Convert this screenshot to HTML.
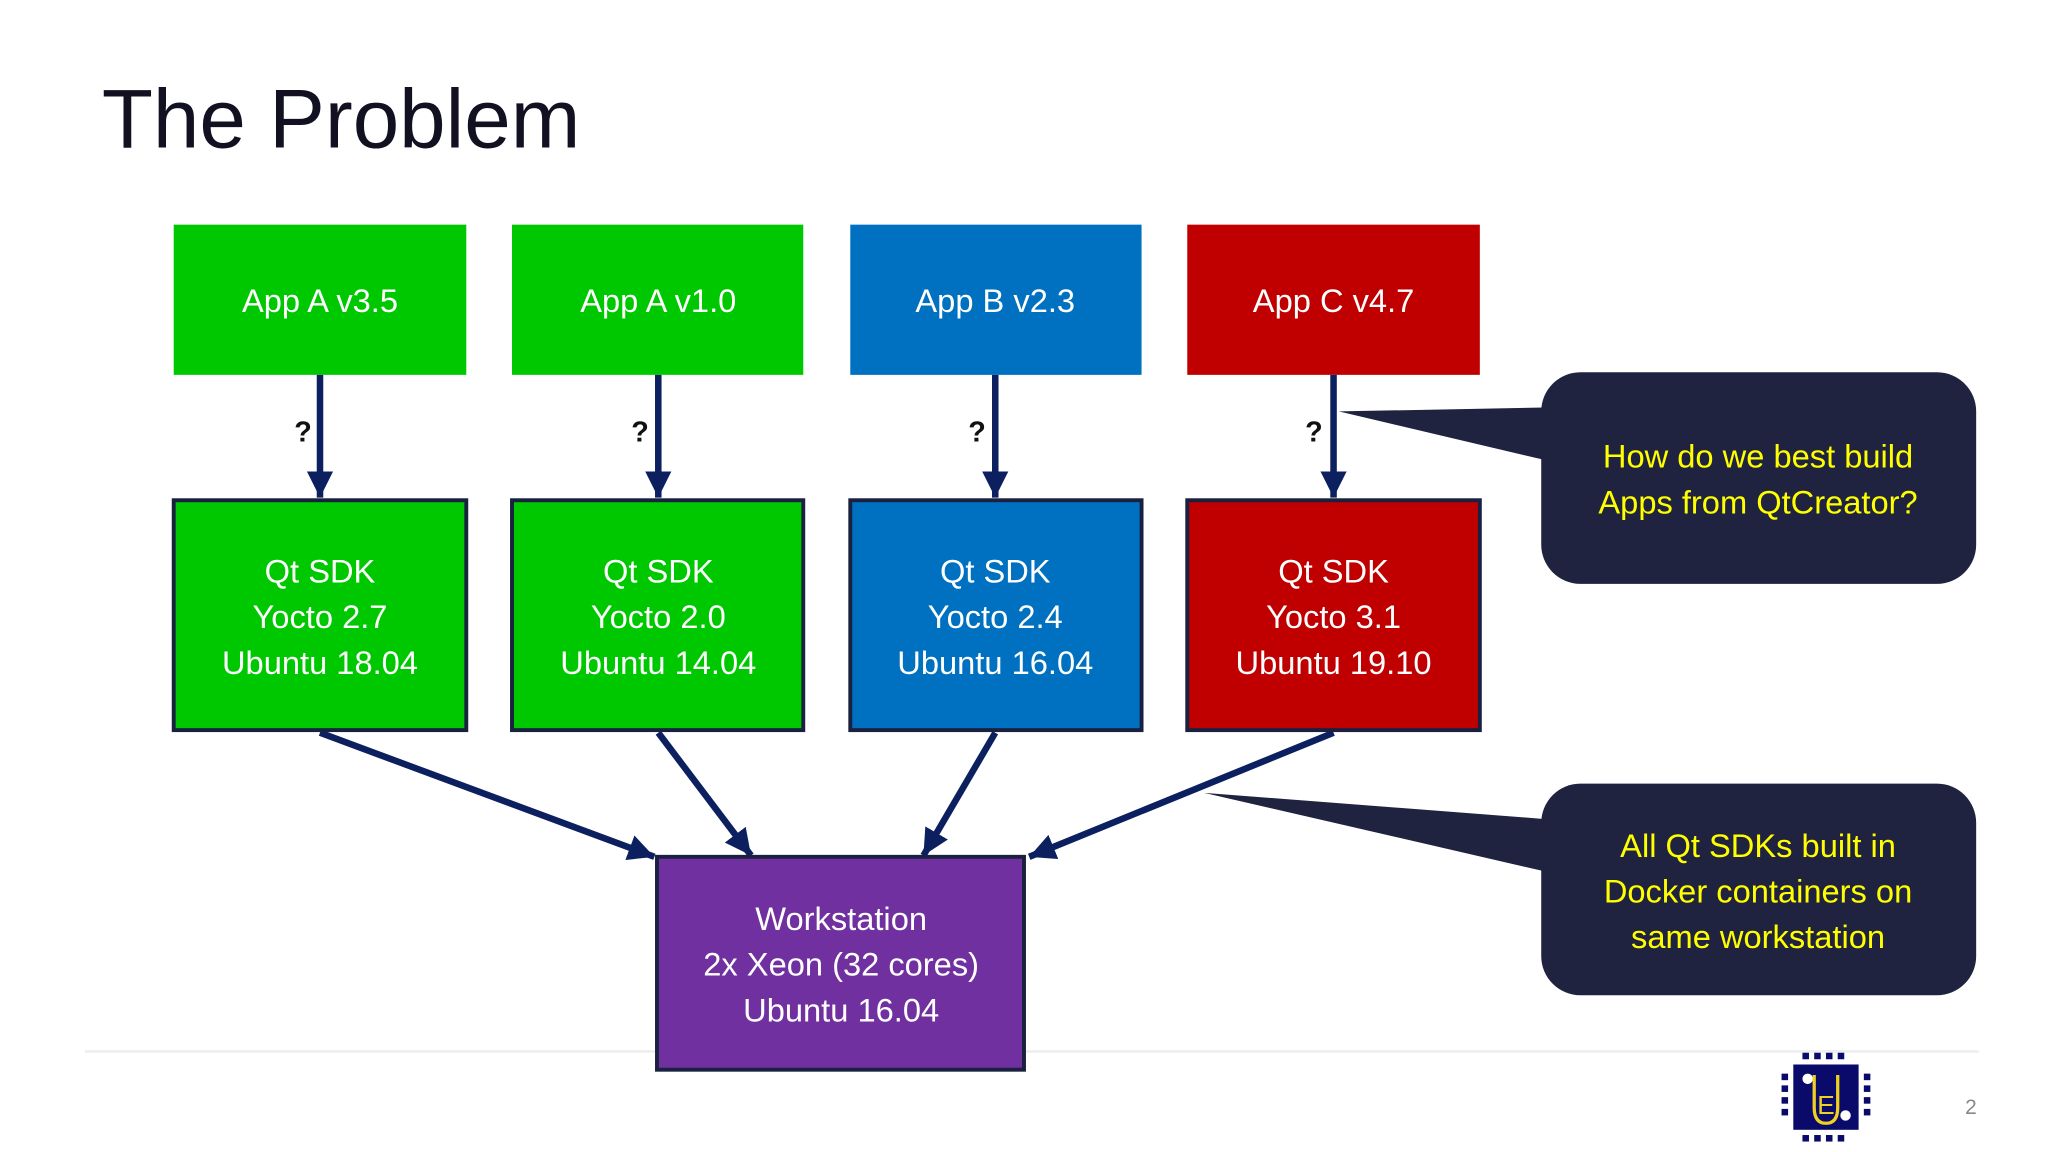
<!DOCTYPE html>
<html><head><meta charset="utf-8"><style>html,body{margin:0;padding:0;background:#fff}svg{display:block}</style></head>
<body>
<svg width="2048" height="1152" viewBox="0 0 1568 882" xmlns="http://www.w3.org/2000/svg" font-family="Liberation Sans, sans-serif">
<defs>
<marker id="ah" markerWidth="4" markerHeight="4" refX="4" refY="2" orient="auto" markerUnits="strokeWidth"><path d="M0,0 L4,2 L0,4 z" fill="#0c2060"/></marker>
</defs>
<rect width="1568" height="882" fill="#fff"/>
<line x1="65" y1="805" x2="1515" y2="805" stroke="#eeeeee" stroke-width="2"/>
<text x="78" y="113" font-size="64" fill="#111122">The Problem</text>
<g font-size="25" fill="#fff" text-anchor="middle">
<rect x="133" y="172" width="224" height="115" fill="#00c800"/><text x="245" y="239">App A v3.5</text>
<rect x="392" y="172" width="223" height="115" fill="#00c800"/><text x="504" y="239">App A v1.0</text>
<rect x="651" y="172" width="223" height="115" fill="#0070c0"/><text x="762" y="239">App B v2.3</text>
<rect x="909" y="172" width="224" height="115" fill="#c00000"/><text x="1021" y="239">App C v4.7</text>
</g>
<g stroke="#0c2060" stroke-width="5" fill="none" marker-end="url(#ah)">
<line x1="245" y1="287" x2="245" y2="381"/>
<line x1="504" y1="287" x2="504" y2="381"/>
<line x1="762" y1="287" x2="762" y2="381"/>
<line x1="1021" y1="287" x2="1021" y2="381"/>
<line x1="245" y1="561" x2="501" y2="656"/>
<line x1="504" y1="561" x2="575" y2="655"/>
<line x1="762" y1="561" x2="707" y2="655"/>
<line x1="1021" y1="561" x2="788" y2="656"/>
</g>
<g font-size="22" font-weight="bold" fill="#111" text-anchor="middle">
<text x="232" y="338">?</text><text x="490" y="338">?</text><text x="748" y="338">?</text><text x="1006" y="338">?</text>
</g>
<g stroke="#1a2040" stroke-width="3">
<rect x="133" y="383" width="224" height="176" fill="#00c800"/>
<rect x="392" y="383" width="223" height="176" fill="#00c800"/>
<rect x="651" y="383" width="223" height="176" fill="#0070c0"/>
<rect x="909" y="383" width="224" height="176" fill="#c00000"/>
<rect x="503" y="656" width="281" height="163" fill="#7030a0"/>
</g>
<g font-size="25" fill="#fff" text-anchor="middle">
<text x="245" y="446">Qt SDK</text><text x="245" y="481">Yocto 2.7</text><text x="245" y="516">Ubuntu 18.04</text>
<text x="504" y="446">Qt SDK</text><text x="504" y="481">Yocto 2.0</text><text x="504" y="516">Ubuntu 14.04</text>
<text x="762" y="446">Qt SDK</text><text x="762" y="481">Yocto 2.4</text><text x="762" y="516">Ubuntu 16.04</text>
<text x="1021" y="446">Qt SDK</text><text x="1021" y="481">Yocto 3.1</text><text x="1021" y="516">Ubuntu 19.10</text>
<text x="644" y="712">Workstation</text><text x="644" y="747">2x Xeon (32 cores)</text><text x="644" y="782">Ubuntu 16.04</text>
</g>
<rect x="1180" y="285" width="333" height="162" rx="30" fill="#1f2340"/>
<polygon points="1182,312 1182,352 1025,315" fill="#1f2340"/>
<rect x="1180" y="600" width="333" height="162" rx="30" fill="#1f2340"/>
<polygon points="1182,627 1182,667 922,607" fill="#1f2340"/>
<g font-size="25" fill="#ffff00" text-anchor="middle">
<text x="1346" y="358">How do we best build</text><text x="1346" y="393">Apps from QtCreator?</text>
<text x="1346" y="656">All Qt SDKs built in</text><text x="1346" y="691">Docker containers on</text><text x="1346" y="726">same workstation</text>
</g>
<g fill="#0a0a6a">
<rect x="1373" y="815" width="50" height="50"/>
<rect x="1380" y="806" width="5" height="5"/><rect x="1389" y="806" width="5" height="5"/><rect x="1398" y="806" width="5" height="5"/><rect x="1407" y="806" width="5" height="5"/>
<rect x="1380" y="869" width="5" height="5"/><rect x="1389" y="869" width="5" height="5"/><rect x="1398" y="869" width="5" height="5"/><rect x="1407" y="869" width="5" height="5"/>
<rect x="1364" y="822" width="5" height="5"/><rect x="1364" y="831" width="5" height="5"/><rect x="1364" y="840" width="5" height="5"/><rect x="1364" y="849" width="5" height="5"/>
<rect x="1427" y="822" width="5" height="5"/><rect x="1427" y="831" width="5" height="5"/><rect x="1427" y="840" width="5" height="5"/><rect x="1427" y="849" width="5" height="5"/>
</g>
<circle cx="1384" cy="826" r="4" fill="#fff"/><circle cx="1413" cy="854" r="4" fill="#fff"/>
<path d="M1389,823 V848 Q1389,860 1398,860 Q1407,860 1407,848 V823" stroke="#f0d020" stroke-width="2.5" fill="none"/>
<text x="1398" y="853" font-size="20" fill="#f0d020" text-anchor="middle">E</text>
<text x="1509" y="853" font-size="16" fill="#888" text-anchor="middle">2</text>
</svg>
</body></html>
